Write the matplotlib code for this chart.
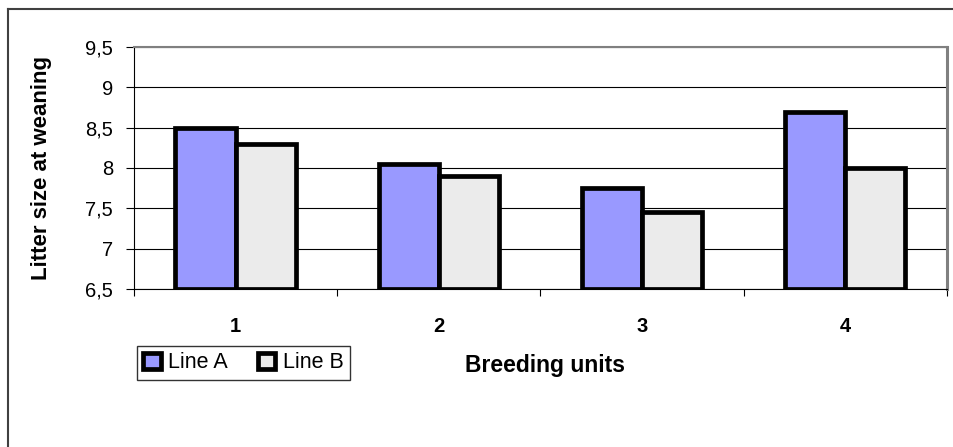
import numpy as np
import matplotlib
matplotlib.use("Agg")
import matplotlib.pyplot as plt
from matplotlib.patches import Patch
from matplotlib.lines import Line2D

plt.rcParams['font.family'] = ['Liberation Sans', 'DejaVu Sans']

# ---------------------- DATA ------------------------
units  = ['1', '2', '3', '4']
line_a = [8.5, 8.05, 7.75, 8.7]
line_b = [8.3, 7.9, 7.45, 8.0]
yticks = [6.5, 7, 7.5, 8, 8.5, 9, 9.5]
ytick_labels = ['6,5', '7', '7,5', '8', '8,5', '9', '9,5']

COLOR_A = '#9999ff'
COLOR_B = '#ebebeb'

# ---------------------- FIGURE ------------------------
fig = plt.figure(figsize=(9.54, 4.47), dpi=100)
ax = fig.add_axes([0.1405, 0.3535, 0.852, 0.5414])

x = np.arange(len(units))
w = 0.296
ax.bar(x - w / 2, np.array(line_a) - 6.5, w, bottom=6.5, color=COLOR_A,
       edgecolor='black', linewidth=3.4, zorder=3)
ax.bar(x + w / 2, np.array(line_b) - 6.5, w, bottom=6.5, color=COLOR_B,
       edgecolor='black', linewidth=3.4, zorder=3)

ax.set_xlim(-0.5, len(units) - 0.5)
ax.set_ylim(6.5, 9.5)

ax.set_yticks(yticks)
ax.set_yticklabels(ytick_labels, fontsize=14.5)
ax.yaxis.grid(True, color='black', linewidth=0.8, zorder=0)
ax.tick_params(axis='y', direction='out', length=6, width=0.8, pad=9)

ax.set_xticks(x)
ax.set_xticklabels(units, fontsize=14.5, fontweight='bold')
ax.set_xticks(np.arange(-0.5, len(units)), minor=True)
ax.tick_params(axis='x', which='major', length=0, pad=20)
ax.tick_params(axis='x', which='minor', direction='out', length=5, width=0.8)

ax.spines['top'].set_color('#808080')
ax.spines['top'].set_linewidth(1.5)
ax.spines['right'].set_color('#808080')
ax.spines['right'].set_linewidth(2.2)
ax.spines['left'].set_linewidth(0.8)
ax.spines['bottom'].set_linewidth(0.8)

ax.set_ylabel('Litter size at weaning', fontsize=16, fontweight='bold')
ax.yaxis.set_label_coords(-0.101, 0.5)

fig.text(0.571, 0.183, 'Breeding units', fontsize=16.5, fontweight='bold',
         ha='center', va='center')

handles = [Patch(facecolor=COLOR_A, edgecolor='black', linewidth=3.4, joinstyle='miter'),
           Patch(facecolor=COLOR_B, edgecolor='black', linewidth=3.4, joinstyle='miter')]
fig.legend(handles, ['Line A', 'Line B'], loc='upper left',
           bbox_to_anchor=(137 / 954, 1 - 346 / 447), ncol=2, fontsize=15.5,
           frameon=True, fancybox=False, edgecolor='black',
           handlelength=0.8, handleheight=0.8, handletextpad=0.35,
           columnspacing=1.4, borderpad=0.3, borderaxespad=0)

# outer chart-area frame (only left and top visible)
fig.add_artist(Line2D([8 / 954, 8 / 954], [0, 1 - 9 / 447], color='#404040',
                      linewidth=1.5, transform=fig.transFigure))
fig.add_artist(Line2D([8 / 954, 1], [1 - 9 / 447, 1 - 9 / 447], color='#404040',
                      linewidth=1.5, transform=fig.transFigure))

fig.savefig('out.png', dpi=100)
